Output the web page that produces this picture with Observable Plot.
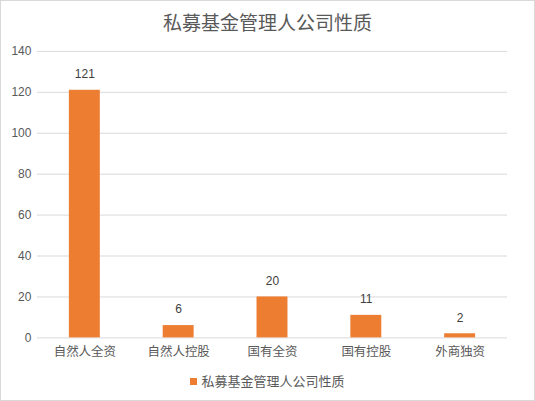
<!DOCTYPE html>
<html><head><meta charset="utf-8">
<script src="https://cdn.jsdelivr.net/npm/d3@7"></script>
<script src="https://cdn.jsdelivr.net/npm/@observablehq/plot@0.6"></script>
<style>
html,body{margin:0;padding:0;background:#fff;}
#wrap{position:relative;width:533px;height:399px;border:1px solid #d9d9d9;overflow:hidden;font-family:"Noto Sans CJK SC",sans-serif;color:#595959;}
#title{position:absolute;left:0;top:8px;width:533px;text-align:center;font-size:19px;line-height:26px;color:#595959;}
#chart{position:absolute;left:-1px;top:-1px;}
#legend{position:absolute;left:0;top:371px;width:533px;text-align:center;font-size:13px;line-height:18px;color:#595959;}
#legend span.sw{display:inline-block;width:7px;height:7px;background:#ED7D31;margin-right:4px;vertical-align:middle;position:relative;top:-1px;}
</style></head>
<body>
<div id="wrap">
<div id="title">私募基金管理人公司性质</div>
<div id="chart"></div>
<div id="legend"><span class="sw"></span>私募基金管理人公司性质</div>
</div>
<script>
const categories = ["自然人全资","自然人控股","国有全资","国有控股","外商独资"];
const values = [121, 6, 20, 11, 2];
const yTicks = [0,20,40,60,80,100,120,140];
const seriesName = "私募基金管理人公司性质";

const data = categories.map((c,i)=>({cat:c, value:values[i]}));

const chart = Plot.plot({
  width: 535,
  height: 401,
  marginTop: 51,
  marginBottom: 63,
  marginLeft: 37,
  marginRight: 27,
  style: {fontFamily: '"Noto Sans CJK SC", sans-serif', color: "#595959", background: "transparent"},
  x: {domain: categories, paddingInner: 0.67, paddingOuter: 0.335, label: null},
  y: {domain: [0,140], ticks: yTicks, label: null},
  marks: [
    Plot.ruleY(yTicks, {stroke: "#d9d9d9", strokeWidth: 1}),
    Plot.barY(data, {x: "cat", y: "value", fill: "#ED7D31"}),
    Plot.text(data, {x: "cat", y: "value", text: d => String(d.value), dy: -16, fontSize: 12, fill: "#404040", fontFamily: '"Liberation Sans", sans-serif'}),
    Plot.axisY({ticks: yTicks, tickSize: 0, tickPadding: 6, fontSize: 12, fill: "#595959", fontFamily: '"Liberation Sans", sans-serif'}),
    Plot.axisX({tickSize: 0, tickPadding: 9, fontSize: 12.5, fill: "#595959"})
  ]
});
document.getElementById("chart").appendChild(chart);
</script>
</body></html>
